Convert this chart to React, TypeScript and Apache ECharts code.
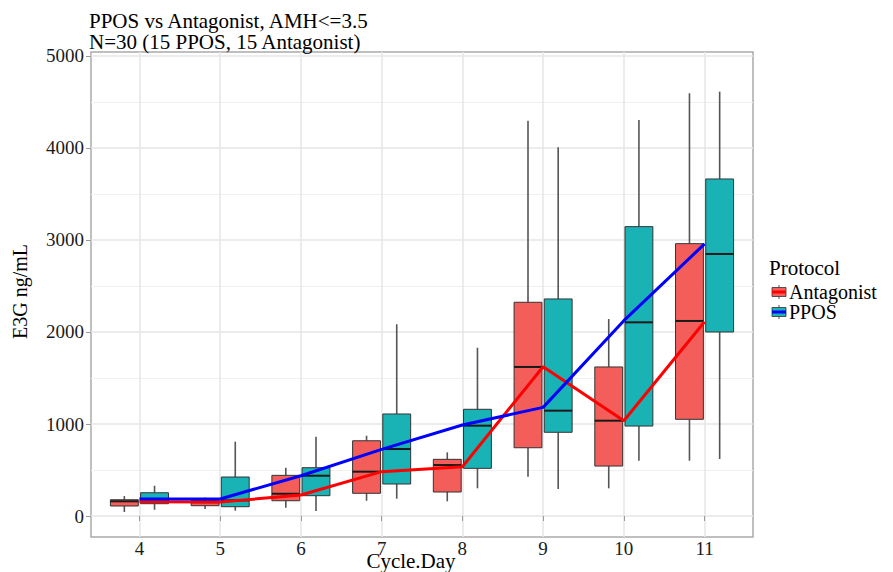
import { useEffect, useRef } from "react";
import * as echarts from "echarts";

const cycleDays = [4, 5, 6, 7, 8, 9, 10, 11];
// each row: [lower whisker, Q1, median, Q3, upper whisker]
const antagonistBoxes = [
  [43, 109, 160, 177, 217],
  [76, 112, 150, 167, 200],
  [90, 166, 242, 442, 525],
  [166, 247, 482, 818, 873],
  [160, 261, 554, 616, 692],
  [427, 742, 1620, 2323, 4297],
  [301, 543, 1036, 1620, 2141],
  [601, 1051, 2120, 2960, 4595],
];
const pposBoxes = [
  [68, 134, 185, 253, 329],
  [58, 101, 170, 424, 808],
  [54, 221, 438, 525, 862],
  [188, 348, 728, 1109, 2084],
  [301, 518, 982, 1160, 1829],
  [293, 910, 1145, 2359, 4008],
  [601, 978, 2105, 3145, 4304],
  [620, 2000, 2848, 3663, 4612],
];
const antagonistLine = [155, 152, 228, 482, 536, 1623, 1036, 2112];
const pposLine = [185, 185, 438, 725, 989, 1181, 2123, 2957];
const yTicks = [0, 1000, 2000, 3000, 4000, 5000];
const yMinorTicks = [500, 1500, 2500, 3500, 4500];
const xTicks = [4, 5, 6, 7, 8, 9, 10, 11];

const FONT = "'Liberation Serif', 'Times New Roman', serif";
const RED_FILL = "#F35E5B";
const TEAL_FILL = "#1AB3B5";
const BOX_W = 0.345;
const DODGE = 0.187;

function boxSeries(name: string, boxes: number[][], fill: string, offset: number) {
  return {
    type: "custom",
    name,
    z: 3,
    silent: true,
    data: cycleDays.map((d, i) => [d, ...boxes[i]]),
    encode: { x: 0, y: [1, 2, 3, 4, 5] },
    renderItem: (_params: any, api: any) => {
      const x = api.value(0) + offset;
      const p = (v: number) => api.coord([x, v]);
      const [cx, yLow] = p(api.value(1));
      const yQ1 = p(api.value(2))[1];
      const yMed = p(api.value(3))[1];
      const yQ3 = p(api.value(4))[1];
      const yHigh = p(api.value(5))[1];
      const w = api.size([BOX_W, 0])[0];
      const whisker = { stroke: "#555555", lineWidth: 1.6 };
      return {
        type: "group",
        children: [
          { type: "line", shape: { x1: cx, y1: yHigh, x2: cx, y2: yQ3 }, style: whisker },
          { type: "line", shape: { x1: cx, y1: yQ1, x2: cx, y2: yLow }, style: whisker },
          {
            type: "rect",
            shape: { x: cx - w / 2, y: yQ3, width: w, height: yQ1 - yQ3 },
            style: { fill, stroke: "#333333", lineWidth: 1 },
          },
          {
            type: "line",
            shape: { x1: cx - w / 2, y1: yMed, x2: cx + w / 2, y2: yMed },
            style: { stroke: "#1a1a1a", lineWidth: 2 },
          },
        ],
      };
    },
  };
}

function legendKey(y: number, fill: string, lineColor: string) {
  return {
    type: "group",
    children: [
      { type: "line", shape: { x1: 779, y1: y - 7, x2: 779, y2: y + 7 }, style: { stroke: "#555", lineWidth: 1 } },
      { type: "rect", shape: { x: 772, y: y - 4.5, width: 14, height: 9 }, style: { fill, stroke: "#333", lineWidth: 0.8 } },
      { type: "line", shape: { x1: 772, y1: y, x2: 786, y2: y }, style: { stroke: lineColor, lineWidth: 3 } },
    ],
  };
}

export default function App() {
  const ref = useRef<HTMLDivElement>(null);
  useEffect(() => {
    document.body.style.margin = "0";
    const chart = echarts.init(ref.current!, undefined, { renderer: "svg" });
    const axisMin = -228;
    const axisMax = 5043;
    chart.setOption({
      animation: false,
      backgroundColor: "#ffffff",
      title: {
        text: "PPOS vs Antagonist, AMH<=3.5\nN=30 (15 PPOS, 15 Antagonist)",
        left: 89,
        top: 11,
        padding: 0,
        textStyle: { fontFamily: FONT, fontSize: 21, fontWeight: "normal", color: "#000", lineHeight: 20.5 },
      },
      grid: {
        left: 91,
        top: 52,
        width: 662,
        height: 485,
        show: true,
        borderColor: "#AAAAAA",
        borderWidth: 1.5,
        backgroundColor: "transparent",
      },
      xAxis: {
        type: "value",
        min: 3.4,
        max: 11.6,
        axisLine: { show: false },
        axisTick: { show: true, length: 5, customValues: xTicks, lineStyle: { color: "#999999" } },
        axisLabel: {
          customValues: xTicks,
          margin: 2,
          fontSize: 19,
          fontFamily: FONT,
          color: "#1a1a1a",
          formatter: (v: number) => String(v),
        },
        splitLine: { show: true, lineStyle: { color: "#E6E6E6", width: 1.5 } },
      },
      yAxis: [
        {
          type: "value",
          min: axisMin,
          max: axisMax,
          axisLine: { show: false },
          axisTick: { show: true, length: 5, customValues: yTicks, lineStyle: { color: "#999999" } },
          axisLabel: {
            customValues: yTicks,
            margin: 7,
            fontSize: 19,
            fontFamily: FONT,
            color: "#1a1a1a",
            formatter: (v: number) => String(v),
          },
          splitLine: { show: true, lineStyle: { color: "#E6E6E6", width: 1.5 } },
        },
        {
          type: "value",
          min: axisMin,
          max: axisMax,
          position: "left",
          axisLine: { show: false },
          axisTick: { show: false, customValues: yMinorTicks },
          axisLabel: { show: false, customValues: yMinorTicks },
          splitLine: { show: true, lineStyle: { color: "#F0F0F0", width: 1 } },
        },
      ],
      series: [
        boxSeries("Antagonist", antagonistBoxes, RED_FILL, -DODGE),
        boxSeries("PPOS", pposBoxes, TEAL_FILL, DODGE),
        {
          type: "line",
          name: "Antagonist median",
          z: 5,
          silent: true,
          symbol: "none",
          data: cycleDays.map((d, i) => [d, antagonistLine[i]]),
          lineStyle: { color: "#FF0000", width: 3 },
        },
        {
          type: "line",
          name: "PPOS median",
          z: 5,
          silent: true,
          symbol: "none",
          data: cycleDays.map((d, i) => [d, pposLine[i]]),
          lineStyle: { color: "#0000FF", width: 3 },
        },
      ],
      graphic: [
        {
          type: "text",
          x: 20,
          y: 291.5,
          rotation: Math.PI / 2,
          style: { text: "E3G ng/mL", fontFamily: FONT, fontSize: 20, fill: "#000", align: "center", verticalAlign: "middle" },
        },
        {
          type: "text",
          x: 411,
          y: 560.5,
          style: { text: "Cycle.Day", fontFamily: FONT, fontSize: 21, fill: "#000", align: "center", verticalAlign: "middle" },
        },
        {
          type: "text",
          x: 769,
          y: 268,
          style: { text: "Protocol", fontFamily: FONT, fontSize: 21, fill: "#000", align: "left", verticalAlign: "middle" },
        },
        legendKey(292, RED_FILL, "#FF0000"),
        legendKey(312, TEAL_FILL, "#0000FF"),
        {
          type: "text",
          x: 789,
          y: 292,
          style: { text: "Antagonist", fontFamily: FONT, fontSize: 20, fill: "#000", align: "left", verticalAlign: "middle" },
        },
        {
          type: "text",
          x: 789,
          y: 312,
          style: { text: "PPOS", fontFamily: FONT, fontSize: 20, fill: "#000", align: "left", verticalAlign: "middle" },
        },
      ],
    });
    return () => chart.dispose();
  }, []);
  return <div ref={ref} style={{ position: "absolute", left: 0, top: 0, width: 893, height: 572 }} />;
}
